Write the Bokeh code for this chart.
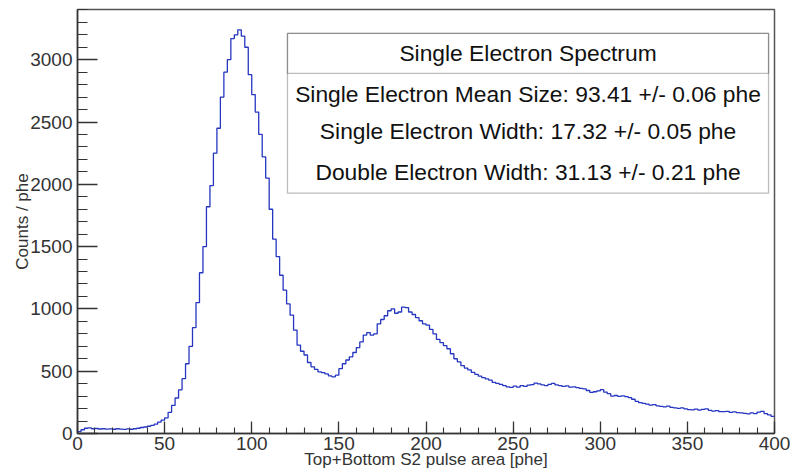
from bokeh.plotting import figure
from bokeh.models import FixedTicker, BoxAnnotation, Label, Range1d
from bokeh.embed import file_html
from bokeh.resources import INLINE

# Histogram: 2-phe bins from 0 to 400 phe (counts per phe)
bin_edges_start = 0
bin_width = 2
counts = [
    15, 30, 42, 45, 38, 40, 36, 38, 35, 37,
    34, 38, 35, 33, 37, 34, 38, 42, 48, 52,
    58, 65, 75, 92, 108, 125, 170, 225, 285, 350,
    440, 560, 700, 850, 1050, 1290, 1500, 1820, 1990, 2250,
    2450, 2700, 2900, 3000, 3170, 3200, 3240, 3190, 3100, 2880,
    2720, 2580, 2400, 2220, 2050, 1800, 1560, 1420, 1270, 1150,
    1040, 950, 830, 710, 660, 630, 570, 535, 515, 495,
    488, 478, 462, 455, 468, 520, 560, 590, 615, 650,
    690, 735, 790, 810, 790, 800, 880, 915, 945, 985,
    1000, 965, 975, 1015, 1010, 975, 955, 930, 905, 880,
    870, 835, 800, 755, 730, 705, 680, 640, 600, 575,
    545, 525, 510, 490, 475, 460, 448, 438, 428, 410,
    402, 395, 385, 375, 370, 380, 372, 385, 378, 388,
    392, 405, 398, 390, 385, 395, 402, 390, 385, 378,
    382, 372, 375, 368, 362, 358, 345, 330, 335, 342,
    352, 332, 320, 300, 305, 298, 302, 296, 288, 275,
    258, 248, 242, 235, 228, 232, 222, 218, 214, 220,
    210, 206, 202, 205, 198, 192, 190, 196, 188, 194,
    198, 186, 180, 184, 176, 175, 178, 170, 174, 168,
    166, 162, 158, 165, 160, 172, 178, 160, 150, 138,
]

x_major_ticks = [0, 50, 100, 150, 200, 250, 300, 350, 400]
x_minor_ticks = list(range(0, 401, 10))
y_major_ticks = [0, 500, 1000, 1500, 2000, 2500, 3000]
y_minor_ticks = list(range(0, 3401, 100))

x_title = "Top+Bottom S2 pulse area [phe]"
y_title = "Counts / phe"

stats_title = "Single Electron Spectrum"
stats_lines = [
    "Single Electron Mean Size: 93.41 +/- 0.06 phe",
    "Single Electron Width: 17.32 +/- 0.05 phe",
    "Double Electron Width: 31.13 +/- 0.21 phe",
]

FONT = "Liberation Sans"

edges = [bin_edges_start + i * bin_width for i in range(len(counts) + 1)]
step_y = counts + [counts[-1]]

p = figure(width=794, height=476, output_backend="svg", toolbar_location=None,
           x_range=Range1d(0, 400), y_range=Range1d(0, 3403),
           min_border_left=77, min_border_right=20, min_border_top=9, min_border_bottom=43)

p.step(edges, step_y, mode="after", line_color="#2536c0", line_width=1.3)

p.xgrid.visible = False
p.ygrid.visible = False
p.background_fill_color = "white"
p.border_fill_color = "white"
p.outline_line_color = "#555555"
p.outline_line_width = 1.5

for ax in (p.xaxis[0], p.yaxis[0]):
    ax.axis_line_color = "#333333"
    ax.axis_line_width = 1.5
    ax.major_tick_line_color = "#333333"
    ax.minor_tick_line_color = "#333333"
    ax.major_tick_line_width = 1.3
    ax.minor_tick_line_width = 1.1
    ax.major_tick_out = 0
    ax.minor_tick_out = 0
    ax.major_label_text_font = FONT
    ax.major_label_text_color = "#333333"
    ax.major_label_text_font_size = "19px"
    ax.axis_label_text_font = FONT
    ax.axis_label_text_font_style = "normal"
    ax.axis_label_text_color = "#333333"
    ax.axis_label_text_font_size = "17px"

p.xaxis.ticker = FixedTicker(ticks=x_major_ticks, minor_ticks=x_minor_ticks)
p.yaxis.ticker = FixedTicker(ticks=y_major_ticks, minor_ticks=y_minor_ticks)
p.xaxis.major_tick_in = 12
p.xaxis.minor_tick_in = 6
p.yaxis.major_tick_in = 20
p.yaxis.minor_tick_in = 10
p.xaxis.major_label_standoff = 3
p.yaxis.major_label_standoff = 5
p.xaxis.axis_label = x_title
p.yaxis.axis_label = y_title
p.xaxis.axis_label_standoff = -3
p.yaxis.axis_label_standoff = -5

# Stats box
box_l, box_r = 120.5, 396.6
p.add_layout(BoxAnnotation(left=box_l, right=box_r, top=3211, bottom=1929,
                           fill_color="white", fill_alpha=1.0,
                           line_color="#222222", line_width=1.3))
p.add_layout(BoxAnnotation(left=box_l, right=box_r, top=3211, bottom=2890,
                           fill_alpha=0.0, line_color="#222222", line_width=1.3))
cx = (box_l + box_r) / 2
p.add_layout(Label(x=cx, y=3050, text=stats_title, text_align="center",
                   text_baseline="middle", text_font=FONT, text_font_size="22.8px",
                   text_color="#111111"))
for yy, t in zip([2722, 2426, 2097], stats_lines):
    p.add_layout(Label(x=cx, y=yy, text=t, text_align="center",
                       text_baseline="middle", text_font=FONT, text_font_size="22.8px",
                       text_color="#111111"))

open("out.html", "w").write(file_html(p, INLINE))
